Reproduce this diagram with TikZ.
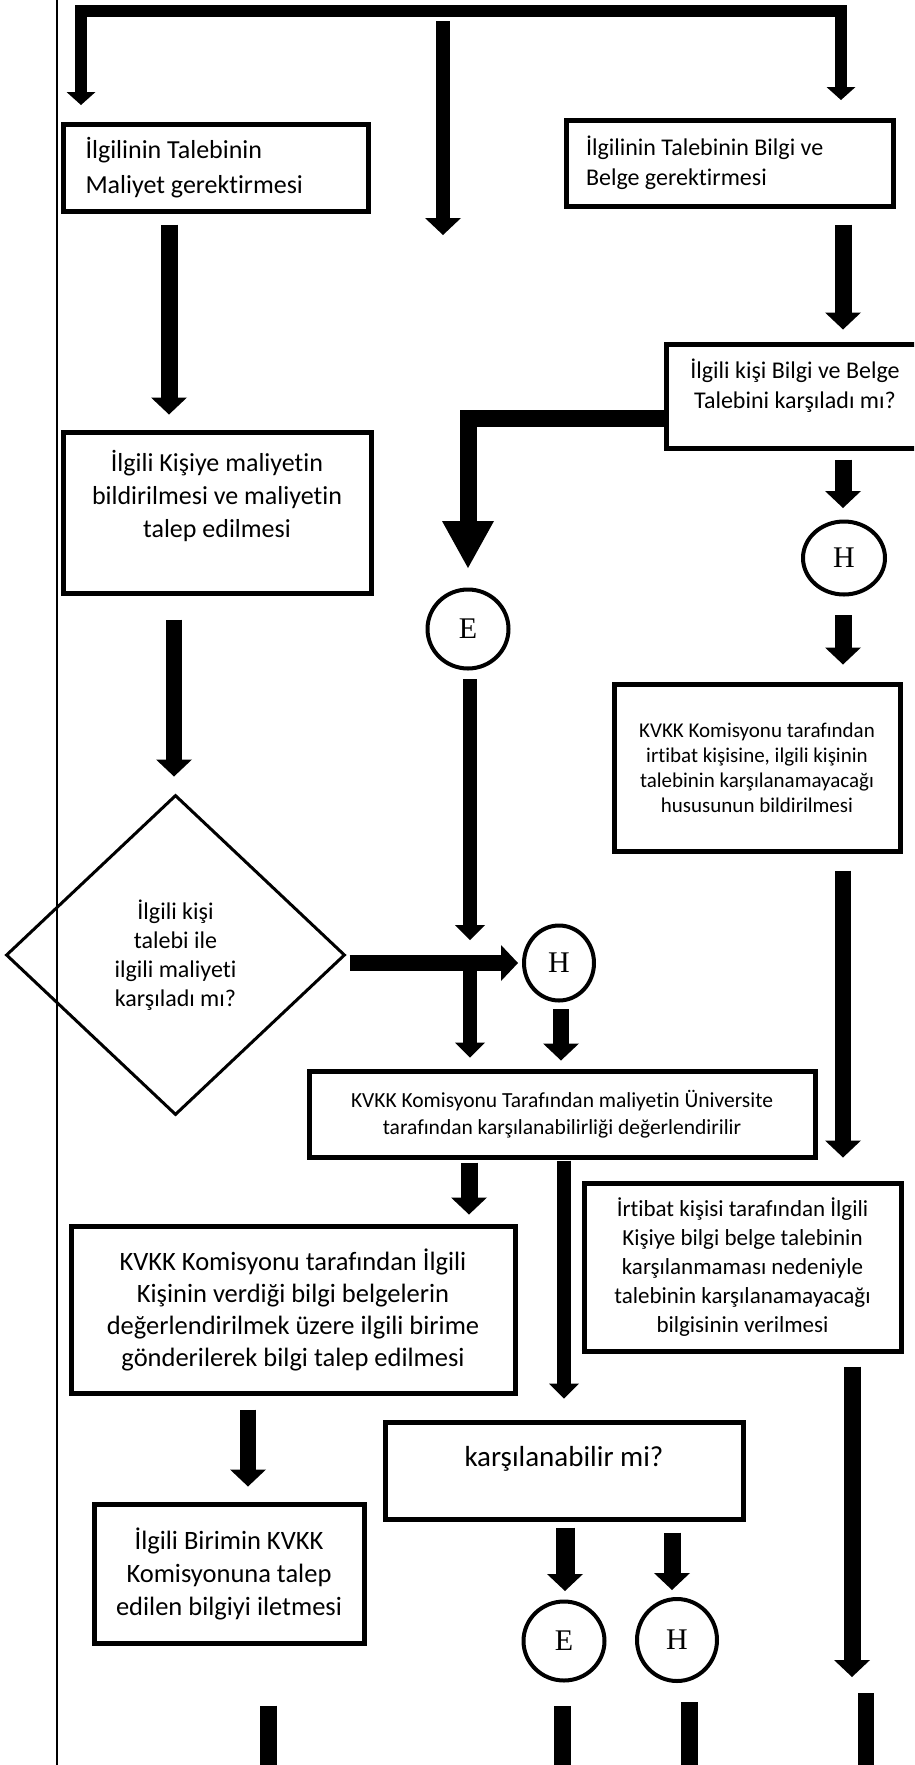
\documentclass[tikz,border=0pt]{standalone}
\usepackage{fontspec}
\setmainfont{Carlito}[Ligatures=NoCommon]
\newfontfamily\letterfont{Liberation Serif}
\usetikzlibrary{arrows.meta,shapes.geometric}

\tikzset{
  box/.style={draw, rectangle, line width=5pt, inner sep=0pt, align=center},
  circ/.style={draw, ellipse, line width=4pt, inner sep=0pt, font=\letterfont\fontsize{30}{30}\selectfont},
  arr/.style={line width=17pt, -{Triangle[width=36pt,length=17pt,line width=0pt]}},
  thinarr/.style={line width=14pt, -{Triangle[width=30pt,length=15pt,line width=0pt]}},
  bigarr/.style={line width=17pt, -{Triangle[width=52pt,length=47pt,line width=0pt]}},
  toparr/.style={line width=12pt, {Triangle[width=29pt,length=13pt,line width=0pt]}-{Triangle[width=29pt,length=13pt,line width=0pt]}},
  stub/.style={line width=17pt}
}

\begin{document}
\begin{tikzpicture}[x=1pt,y=-1pt]
\useasboundingbox (0,0) rectangle (914,1765);
\clip (0,0) rectangle (914,1765);

\coordinate (kTL) at (81,11);
\coordinate (kTR) at (841,11);
\coordinate (kM) at (443,21);
\coordinate (kM2) at (443,235);
\coordinate (kA) at (169,0);
\coordinate (kB) at (174,0);
\coordinate (kC) at (843,0);
\coordinate (kD) at (852,1677);
\coordinate (kE) at (470,0);
\coordinate (kG) at (561,0);
\coordinate (kH) at (469,0);
\coordinate (kI) at (564,0);
\coordinate (kJ) at (248,0);
\coordinate (kK) at (565,0);
\coordinate (kL) at (672,0);
\coordinate (kS1) at (268,1780);
\coordinate (kS2) at (562,1780);
\coordinate (kS3) at (689,1780);
\coordinate (kS4a) at (866,1693);
\coordinate (kS4b) at (866,1780);

\draw[line width=2pt] (56.5,0) -- (56.5,1765);

\node[box, align=flush left, text width=260pt, inner xsep=22.5pt, minimum height=87pt, font=\fontsize{26}{35}\selectfont] (b1) at (215.5,167.5) {İlgilinin Talebinin\\Maliyet gerektirmesi};
\node[box, align=flush left, text width=288pt, inner xsep=19.5pt, minimum height=86pt, font=\fontsize{24}{30}\selectfont] (b2) at (730,163) {İlgilinin Talebinin Bilgi ve\\Belge gerektirmesi};
\node[box, minimum width=257pt, minimum height=104pt, text depth=24pt, font=\fontsize{24}{30}\selectfont] (b4) at (795,396) {İlgili kişi Bilgi ve Belge\\Talebini karşıladı mı?};
\node[box, minimum width=308pt, minimum height=161pt, text depth=37pt, font=\fontsize{26}{33}\selectfont] (b3) at (217,512.5) {İlgili Kişiye maliyetin\\bildirilmesi ve maliyetin\\talep edilmesi};
\node[draw, diamond, line width=3pt, inner sep=0pt, minimum width=339pt, minimum height=320pt, align=center, font=\fontsize{24}{29}\selectfont] (d) at (175.5,955) {İlgili kişi\\talebi ile\\ilgili maliyeti\\karşıladı mı?};
\node[circ, minimum width=82pt, minimum height=73pt] (h0) at (844,558) {H};
\node[circ, minimum width=81pt, minimum height=79pt] (e1) at (468,629) {E};
\node[circ, minimum width=70pt, minimum height=75pt] (h1) at (559,963) {H};
\node[box, minimum width=286pt, minimum height=167pt, font=\fontsize{21}{25}\selectfont] (b9) at (757,767.5) {KVKK Komisyonu tarafından\\irtibat kişisine, ilgili kişinin\\talebinin karşılanamayacağı\\hususunun bildirilmesi};
\node[box, minimum width=506pt, minimum height=86pt, font=\fontsize{21.5}{27}\selectfont] (b5) at (562,1114) {KVKK Komisyonu Tarafından maliyetin Üniversite\\tarafından karşılanabilirliği değerlendirilir};
\node[box, minimum width=317pt, minimum height=168pt, font=\fontsize{23}{29}\selectfont] (b10) at (742.5,1267) {İrtibat kişisi tarafından İlgili\\Kişiye bilgi belge talebinin\\karşılanmaması nedeniyle\\talebinin karşılanamayacağı\\bilgisinin verilmesi};
\node[box, minimum width=444pt, minimum height=167pt, font=\fontsize{26.5}{32}\selectfont] (b6) at (293,1309.5) {KVKK Komisyonu tarafından İlgili\\Kişinin verdiği bilgi belgelerin\\değerlendirilmek üzere ilgili birime\\gönderilerek bilgi talep edilmesi};
\node[box, minimum width=358pt, minimum height=97pt, text depth=30pt, font=\fontsize{29}{35}\selectfont] (b8) at (564,1471) {karşılanabilir mi?};
\node[box, minimum width=270pt, minimum height=139pt, font=\fontsize{26.5}{33}\selectfont] (b7) at (229,1573.5) {İlgili Birimin KVKK\\Komisyonuna talep\\edilen bilgiyi iletmesi};
\node[circ, minimum width=81pt, minimum height=79pt] (e2) at (564,1641) {E};
\node[circ, minimum width=80pt, minimum height=82pt] (h2) at (677,1640) {H};

\draw[toparr, shorten <=16.5pt, shorten >=17.5pt] (b1.north -| kTL) -- (kTL) -- (kTR) -- (b2.north -| kTR);
\draw[arr, line width=14pt] (kM) -- (kM2);
\draw[arr, shorten <=11pt, shorten >=15pt] (b1.south -| kA) -- (b3.north -| kA);
\draw[arr, line width=16pt, shorten <=24pt, shorten >=17pt] (b3.south -| kB) -- (d.north -| kB);
\draw[arr, shorten <=16pt, shorten >=12pt] (b2.south -| kC) -- (b4.north -| kC);
\draw[arr, shorten <=9pt, shorten >=11.5pt] (b4.south -| kC) -- (h0.north -| kC);
\draw[arr, shorten <=18.5pt, shorten >=17pt] (h0.south -| kC) -- (b9.north -| kC);
\draw[arr, line width=16pt, shorten <=17pt, shorten >=23pt] (b9.south -| kC) -- (b10.north -| kC);
\draw[arr, shorten <=13pt] (b10.south -| kD) -- (kD);
\draw[bigarr, shorten >=19.5pt] ([yshift=-22pt]b4.west) -| (e1.north);
\draw[thinarr, shorten <=8.5pt, shorten >=23pt] (e1.south -| kE) -- (h1 -| kE);
\draw[arr, line width=16pt, shorten <=3pt, shorten >=4pt] (d.east |- h1) -- (h1.west);
\draw[thinarr, shorten >=11pt] (h1 -| kE) -- (b5.north -| kE);
\draw[arr, line width=16pt, shorten <=6.5pt, shorten >=8pt] (h1.south -| kG) -- (b5.north -| kG);
\draw[arr, shorten <=3pt, shorten >=9pt] (b5.south -| kH) -- (b6.north -| kH);
\draw[thinarr, shorten <=1pt, shorten >=21.5pt] (b5.south -| kI) -- (b8.north -| kI);
\draw[arr, line width=16pt, shorten <=14pt, shorten >=15pt] (b6.south -| kJ) -- (b7.north -| kJ);
\draw[arr, line width=19pt, shorten <=5.5pt, shorten >=8.5pt] (b8.south -| kK) -- (e2.north -| kK);
\draw[arr, shorten <=10.5pt, shorten >=7pt] (b8.south -| kL) -- (h2.north -| kL);
\draw[stub, shorten <=60pt] (b7.south -| kS1) -- (kS1);
\draw[stub, shorten <=23.5pt] (e2.south -| kS2) -- (kS2);
\draw[stub, shorten <=19pt] (h2.south -| kS3) -- (kS3);
\draw[stub, line width=16pt] (kS4a) -- (kS4b);
\end{tikzpicture}
\end{document}
